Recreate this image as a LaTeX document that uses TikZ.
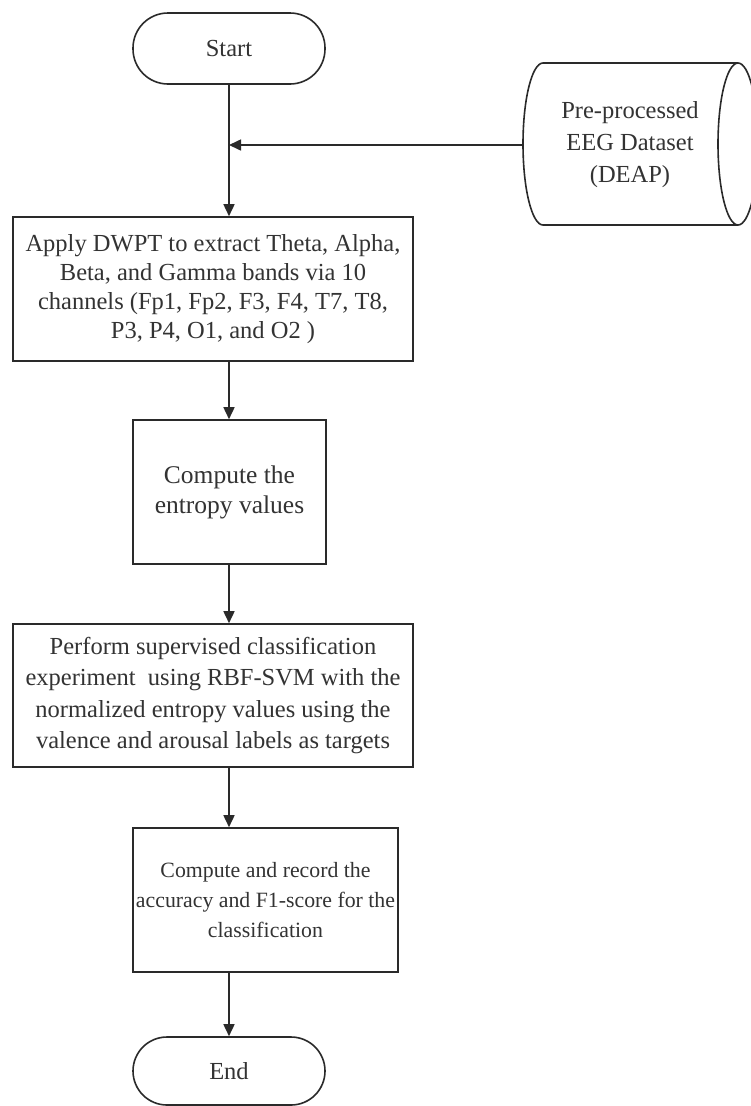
\documentclass[tikz,border=0pt]{standalone}
\usepackage{fontspec}
\setmainfont{Liberation Serif}
\usetikzlibrary{arrows.meta}
\definecolor{ln}{HTML}{2A2A2A}
\definecolor{tx}{HTML}{333333}
\tikzset{
  base/.style={draw=ln, line width=1.6pt, text=tx, align=center, inner sep=0pt,
    font=\fontsize{24.5}{30}\selectfont},
  procbox/.style={base, rectangle},
  term/.style={base, rectangle, rounded corners=35pt, minimum width=192pt, minimum height=71pt},
  flow/.style={draw=ln, line width=1.6pt, -{Triangle[length=12pt,width=11pt]}},
}
\begin{document}
\begin{tikzpicture}[x=1pt,y=-1pt]
\useasboundingbox (0,0) rectangle (750,1106);
\fill[white] (0,0) rectangle (750,1106);

\node[term] (start) at (229,48.5) {Start};
\node[procbox, minimum width=400pt, minimum height=144pt,
  font=\fontsize{24.5}{29}\selectfont] (b1) at (213,289)
  {Apply DWPT to extract Theta, Alpha,\\Beta, and Gamma bands via 10\\channels (Fp1, Fp2, F3, F4, T7, T8,\\P3, P4, O1, and O2 )};
\node[procbox, minimum width=193pt, minimum height=144pt,
  font=\fontsize{25.5}{30}\selectfont] (b2) at (229.5,492)
  {Compute the\\entropy values};
\node[procbox, minimum width=400pt, minimum height=143pt,
  font=\fontsize{24.5}{31.5}\selectfont] (b3) at (213,695.5)
  {Perform supervised classification\\experiment\ \ using RBF-SVM with the\\normalized entropy values using the\\valence and arousal labels as targets};
\node[procbox, minimum width=265pt, minimum height=144pt,
  font=\fontsize{21.8}{30}\selectfont] (b4) at (265.5,900)
  {Compute and record the\\accuracy and F1-score for the\\classification};
\node[term, minimum height=68pt, rounded corners=34pt] (end) at (229,1071) {End};

% data store (direct access storage)
\node[base, draw=none, font=\fontsize{24.5}{32}\selectfont] (data) at (630,145)
  {Pre-processed\\EEG Dataset\\(DEAP)};
\draw[draw=ln, line width=1.6pt]
  (738,63) -- (543,63) arc[start angle=90, end angle=270, x radius=20, y radius=-81]
  -- (738,225);
\draw[draw=ln, line width=1.6pt] (738,144) ellipse[x radius=20, y radius=81];
\coordinate (dataL) at (523,145);

\draw[flow] (start.south) -- (start.south |- b1.north);
\draw[flow] (dataL) -- (dataL -| start.south);
\draw[flow] (b1.south -| start.south) -- (start.south |- b2.north);
\draw[flow] (b2.south -| start.south) -- (start.south |- b3.north);
\draw[flow] (b3.south -| start.south) -- (start.south |- b4.north);
\draw[flow] (b4.south -| end.north) -- (end.north);
\end{tikzpicture}
\end{document}
